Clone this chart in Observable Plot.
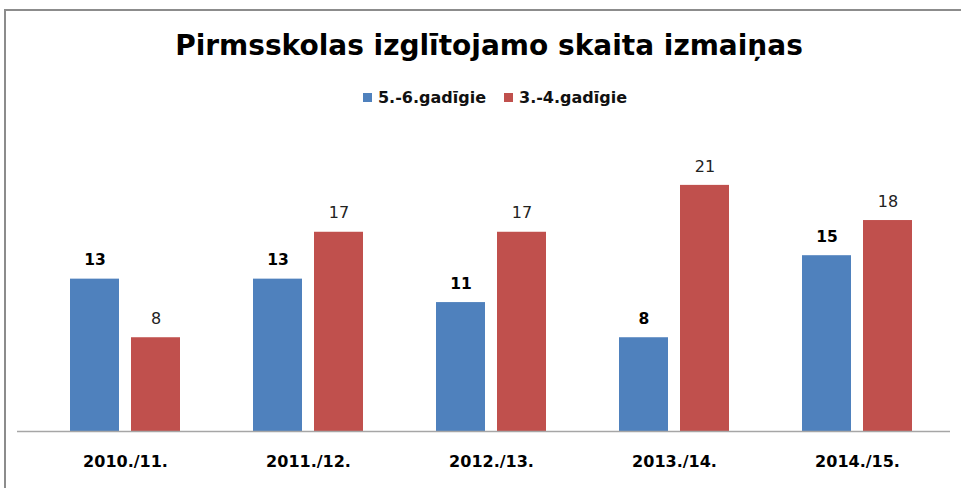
<!DOCTYPE html>
<html><head><meta charset="utf-8">
<script src="https://cdn.jsdelivr.net/npm/d3@7"></script>
<script src="https://cdn.jsdelivr.net/npm/@observablehq/plot@0.6"></script>
<style>
html,body{margin:0;padding:0;background:#fff;width:961px;height:488px;overflow:hidden;font-family:"DejaVu Sans",sans-serif;}
#frame{position:absolute;left:4px;top:9px;width:957px;height:479px;border-top:2px solid #8c8c8c;border-left:2px solid #8c8c8c;box-sizing:border-box;}
#title{position:absolute;left:0;width:978px;top:29px;text-align:center;font-size:28px;font-weight:bold;color:#000;line-height:34px;}
#legend{position:absolute;left:0;width:990px;top:88px;text-align:center;font-size:16px;font-weight:bold;color:#111;line-height:20px;}
#legend span.item{display:inline-block;margin:0 9px;}
#legend span.sw{display:inline-block;width:9px;height:9px;margin-right:6px;vertical-align:1px;}
#chart{position:absolute;left:0;top:120px;}
</style></head>
<body>
<div id="frame"></div>
<div id="title">Pirmsskolas izglītojamo skaita izmaiņas</div>
<div id="legend"></div>
<div id="chart"></div>
<script>
const categories = ["2010./11.", "2011./12.", "2012./13.", "2013./14.", "2014./15."];
const seriesNames = ["5.-6.gadīgie", "3.-4.gadīgie"];
const seriesColors = ["#4F81BD", "#C0504D"];
const values56 = [13, 13, 11, 8, 15];
const values34 = [8, 17, 17, 21, 18];

const legend = document.getElementById("legend");
seriesNames.forEach((n, i) => {
  const s = document.createElement("span"); s.className = "item";
  s.innerHTML = `<span class="sw" style="background:${seriesColors[i]}"></span>${n}`;
  legend.appendChild(s);
});

const d56 = categories.map((c, i) => ({cat: c, v: values56[i]}));
const d34 = categories.map((c, i) => ({cat: c, v: values34[i]}));

const chart = Plot.plot({
  width: 961, height: 368,
  marginLeft: 17, marginRight: 11, marginTop: 18, marginBottom: 57,
  style: {fontFamily: "'DejaVu Sans', sans-serif", background: "transparent"},
  x: {domain: categories, paddingInner: 0.4, paddingOuter: 0.2, insetLeft: 15, label: null},
  y: {domain: [0, 25], axis: null},
  marks: [
    Plot.barY(d56, {x: "cat", y: "v", fill: seriesColors[0], insetRight: 61}),
    Plot.barY(d34, {x: "cat", y: "v", fill: seriesColors[1], insetLeft: 61}),
    Plot.ruleY([0], {stroke: "#a6a6a6", strokeWidth: 1.5}),
    Plot.text(d56, {x: "cat", y: "v", text: d => String(d.v), dx: -30.5, dy: -19, fontSize: 15.5, fontWeight: "bold", fill: "#000"}),
    Plot.text(d34, {x: "cat", y: "v", text: d => String(d.v), dx: 30.5, dy: -19, fontSize: 16, fill: "#222"}),
    Plot.axisX({tickSize: 0, tickPadding: 24, fontSize: 16, fontWeight: "bold", fill: "#000", label: null})
  ]
});
document.getElementById("chart").appendChild(chart);
</script>
</body></html>
